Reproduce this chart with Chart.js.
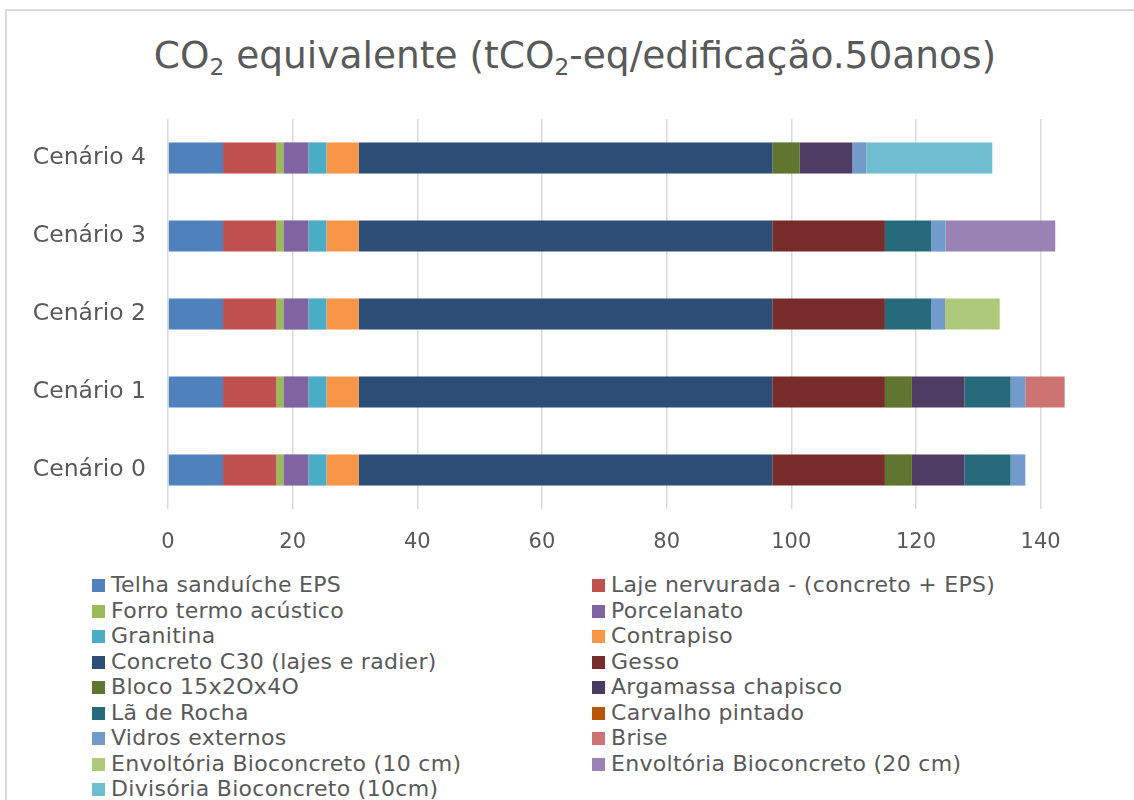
<!DOCTYPE html>
<html>
<head>
<meta charset="utf-8">
<script src="https://cdn.jsdelivr.net/npm/chart.js@4"></script>
<style>
  body { margin: 0; background: #fff; overflow: hidden; }
  #frame { position: absolute; left: 5px; top: 9px; width: 1140px; height: 800px; border: 2px solid #d9d9d9; box-sizing: border-box; }
  #title { position: absolute; left: 0; top: 29px; width: 1150px; text-align: center; font-family: "DejaVu Sans", sans-serif; font-size: 37.5px; line-height: 52px; color: #595959; white-space: nowrap; }
  #title sub { font-size: 0.62em; vertical-align: -0.28em; line-height: 0; }
  #wrap { position: absolute; left: 0; top: 0; width: 1134px; height: 562px; }
  #legend { position: absolute; left: 92px; top: 572px; display: grid; grid-template-columns: 500px 500px; font-family: "DejaVu Sans", sans-serif; font-size: 22px; letter-spacing: 0.3px; color: #595959; }
  #legend div { height: 25.5px; line-height: 25.5px; white-space: nowrap; }
  #legend span { display: inline-block; width: 13px; height: 13px; margin-right: 6px; vertical-align: 0px; }
</style>
</head>
<body>
<div id="frame"></div>
<div id="title">CO<sub>2</sub> equivalente (tCO<sub>2</sub>-eq/edificação.50anos)</div>
<div id="wrap"><canvas id="co2Chart"></canvas></div>
<div id="legend"></div>
<script>
// Cenários (de baixo para cima)
const cenarios = ['Cenário 0', 'Cenário 1', 'Cenário 2', 'Cenário 3', 'Cenário 4'];
const xTicks = [0, 20, 40, 60, 80, 100, 120, 140];

// Valores por material, na ordem dos cenários 0..4
const telha       = [8.83, 8.83, 8.83, 8.83, 8.83];
const laje        = [8.56, 8.56, 8.56, 8.56, 8.56];
const forro       = [1.12, 1.12, 1.12, 1.12, 1.12];
const porcelanato = [4.01, 4.01, 4.01, 4.01, 4.01];
const granitina   = [2.89, 2.89, 2.89, 2.89, 2.89];
const contrapiso  = [5.18, 5.18, 5.18, 5.18, 5.18];
const concreto    = [66.36, 66.36, 66.36, 66.36, 66.36];
const gesso       = [18.07, 18.07, 18.07, 18.07, 0];
const bloco       = [4.33, 4.33, 0, 0, 4.4];
const argamassa   = [8.41, 8.41, 0, 0, 8.45];
const laRocha     = [7.43, 7.43, 7.4, 7.4, 0];
const carvalho    = [0, 0, 0, 0, 0];
const vidros      = [2.36, 2.36, 2.25, 2.33, 2.25];
const brise       = [0, 6.31, 0, 0, 0];
const envBio10    = [0, 0, 8.77, 0, 0];
const envBio20    = [0, 0, 0, 17.6, 0];
const divisoria   = [0, 0, 0, 0, 20.2];

const series = [
    ['Telha sanduíche EPS', telha, '#4f81bd'],
    ['Laje nervurada - (concreto + EPS)', laje, '#c0504d'],
    ['Forro termo acústico', forro, '#9bbb59'],
    ['Porcelanato', porcelanato, '#8064a2'],
    ['Granitina', granitina, '#4bacc6'],
    ['Contrapiso', contrapiso, '#f79646'],
    ['Concreto C30 (lajes e radier)', concreto, '#2c4d75'],
    ['Gesso', gesso, '#772c2a'],
    ['Bloco 15x2Ox4O', bloco, '#5f7530'],
    ['Argamassa chapisco', argamassa, '#4d3b62'],
    ['Lã de Rocha', laRocha, '#276a7c'],
    ['Carvalho pintado', carvalho, '#b65708'],
    ['Vidros externos', vidros, '#729aca'],
    ['Brise', brise, '#cd7371'],
    ['Envoltória Bioconcreto (10 cm)', envBio10, '#afc97a'],
    ['Envoltória Bioconcreto (20 cm)', envBio20, '#9983b5'],
    ['Divisória Bioconcreto (10cm)', divisoria, '#6fbdd1']
];

const textColor = '#595959';
const fontFamily = '"DejaVu Sans", sans-serif';

const ctx = document.getElementById('co2Chart').getContext('2d');
const chart = new Chart(ctx, {
    type: 'bar',
    data: {
        labels: cenarios,
        datasets: series.map(s => ({
            label: s[0],
            data: s[1],
            backgroundColor: s[2],
            borderWidth: 0,
            barPercentage: 0.4,
            categoryPercentage: 1.0
        }))
    },
    options: {
        indexAxis: 'y',
        responsive: true,
        maintainAspectRatio: false,
        animation: false,
        // o título fica em HTML (por causa do subscrito), então reservo o espaço no topo
        layout: { padding: { left: 0, right: 56, top: 119, bottom: 8 } },
        scales: {
            x: {
                stacked: true,
                min: 0,
                max: 146,
                afterBuildTicks: (scale) => { scale.ticks = xTicks.map(v => ({ value: v })); },
                afterFit: (scale) => { scale.height = 45; },
                grid: { color: '#d9d9d9', lineWidth: 1.5, drawTicks: false },
                border: { display: false },
                ticks: { color: textColor, font: { family: fontFamily, size: 21 }, padding: 21 }
            },
            y: {
                stacked: true,
                reverse: true,
                grid: { display: false, drawTicks: false },
                border: { display: false },
                afterFit: (scale) => { scale.width = 168; },
                ticks: { color: textColor, font: { family: fontFamily, size: 23.5 }, padding: 22 }
            }
        },
        plugins: {
            legend: { display: false },
            tooltip: { enabled: false },
            title: { display: false }
        }
    }
});

// Legenda em duas colunas, feita a partir dos datasets
const legendDiv = document.getElementById('legend');
chart.data.datasets.forEach(ds => {
    const item = document.createElement('div');
    item.innerHTML = `<span style="background:${ds.backgroundColor}"></span>${ds.label}`;
    legendDiv.appendChild(item);
});
</script>
</body>
</html>
